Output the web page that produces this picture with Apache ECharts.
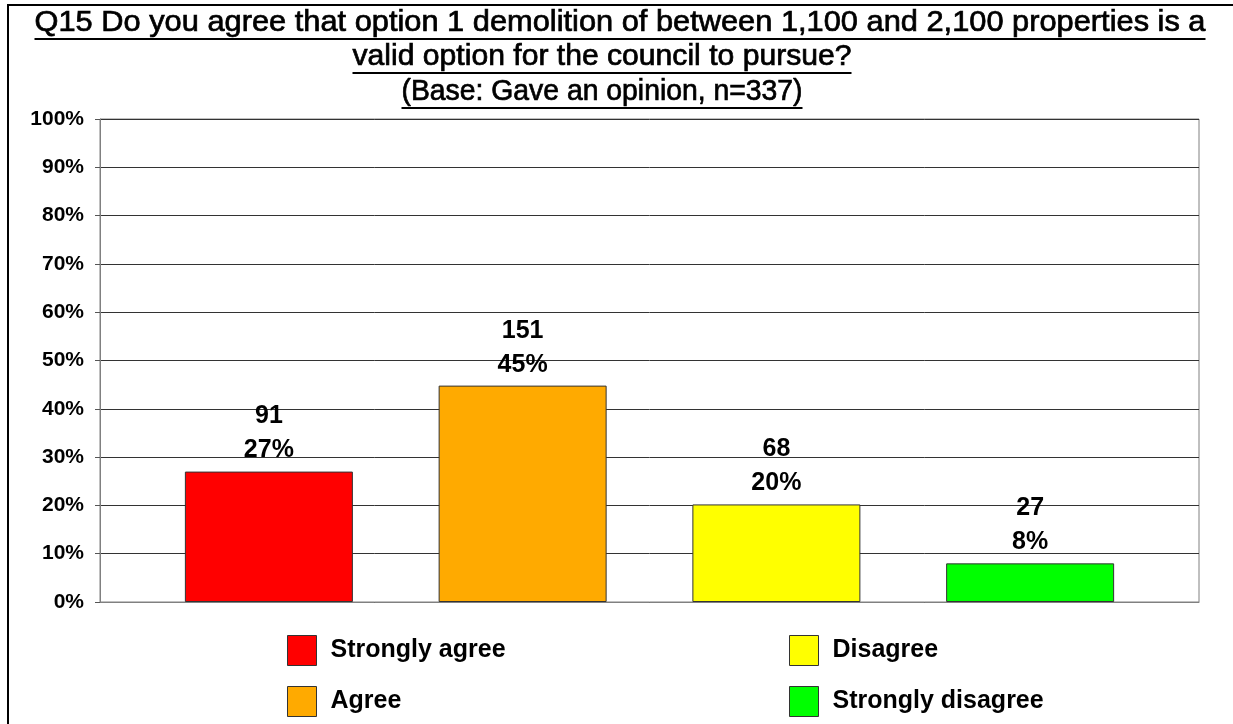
<!DOCTYPE html>
<html>
<head>
<meta charset="utf-8">
<script src="https://cdn.jsdelivr.net/npm/echarts@6/dist/echarts.min.js"></script>
<style>
html,body{margin:0;padding:0;background:#fff;}
#chart{width:1233px;height:724px;}
</style>
</head>
<body>
<div id="chart"></div>
<script>
// ---- data ----
const titleLines = [
  'Q15 Do you agree that option 1 demolition of between 1,100 and 2,100 properties is a',
  'valid option for the council to pursue?',
  '(Base: Gave an opinion, n=337)'
];
const categories = ['Strongly agree', 'Agree', 'Disagree', 'Strongly disagree'];
const counts = [91, 151, 68, 27];
const percents = [27.0, 44.8, 20.2, 8.0];
const yMin = 0;
const yMax = 100;
const yStep = 10;

// ---- style ----
const colors = ['#FF0000', '#FFAA00', '#FFFF00', '#00FF00'];
const FONT = '"Liberation Sans", Arial, sans-serif';
const titleSize = 29;
const titleLayout = [
  { cx: 620, baseline: 33, width: 1171 },
  { cx: 602, baseline: 67, width: 499 },
  { cx: 602, baseline: 102, width: 401 }
];

const canvas = document.createElement('canvas');
const ctx = canvas.getContext('2d');
ctx.font = titleSize + 'px ' + FONT;

const graphics = [];
titleLines.forEach((t, i) => {
  const L = titleLayout[i];
  const natural = ctx.measureText(t).width;
  const sx = L.width ? L.width / natural : 1;
  const w = natural * sx;
  graphics.push({
    type: 'text', x: L.cx, y: L.baseline - 10, scaleX: sx,
    style: { text: t, fill: '#000', stroke: '#000', lineWidth: 0.7, font: titleSize + 'px ' + FONT, align: 'center', verticalAlign: 'middle' }
  });
  graphics.push({
    type: 'line',
    shape: { x1: L.cx - w / 2, y1: L.baseline + 6, x2: L.cx + w / 2, y2: L.baseline + 6 },
    style: { stroke: '#000', lineWidth: 2 }
  });
});
// outer frame (top & left)
graphics.push({
  type: 'polyline',
  shape: { points: [[8, 740], [8, 5], [1240, 5]] },
  style: { stroke: '#000', lineWidth: 2, fill: null }
});

const series = categories.map((name, i) => ({
  name: name,
  type: 'bar',
  xAxisIndex: 1,
  yAxisIndex: 1,
  barWidth: 168,
  barGap: '-100%',
  itemStyle: { color: colors[i], borderColor: '#333', borderWidth: 1 },
  label: {
    show: true,
    position: 'top',
    distance: 4,
    formatter: () => counts[i] + '\n' + Math.round(percents[i]) + '%',
    fontFamily: FONT,
    fontSize: 25,
    fontWeight: 'bold',
    color: '#000',
    lineHeight: 34
  },
  data: categories.map((c, j) => (j === i ? percents[i] : '-'))
}));

const legendText = { fontFamily: FONT, fontSize: 25, fontWeight: 'bold', color: '#000', padding: [0, 0, 0, 9] };
const legendBase = {
  orient: 'vertical', top: 635, padding: 0, itemWidth: 29, itemHeight: 30, itemGap: 20,
  icon: 'rect', textStyle: legendText, selectedMode: false,
  itemStyle: { borderColor: '#333', borderWidth: 1 }
};

const chart = echarts.init(document.getElementById('chart'), null, { renderer: 'canvas' });
chart.setOption({
  animation: false,
  backgroundColor: '#fff',
  graphic: graphics,
  legend: [
    Object.assign({}, legendBase, { left: 287, data: [categories[0], categories[1]] }),
    Object.assign({}, legendBase, { left: 789, data: [categories[2], categories[3]] })
  ],
  grid: [
    { left: 100, right: 34, top: 119, bottom: 122, show: true, borderColor: '#808080', borderWidth: 1, backgroundColor: 'transparent' },
    { left: 142, right: 76, top: 119, bottom: 122 }
  ],
  xAxis: [
    { gridIndex: 0, type: 'value', min: 0, max: 1, show: true, axisLine: { show: true, lineStyle: { color: '#808080' } }, axisTick: { show: false }, axisLabel: { show: false }, splitLine: { show: false } },
    { gridIndex: 1, type: 'category', data: categories, show: false, boundaryGap: true }
  ],
  yAxis: [
    {
      gridIndex: 0, type: 'value', min: yMin, max: yMax, interval: yStep,
      axisLine: { show: true, lineStyle: { color: '#808080', width: 1 } },
      axisTick: { show: true, length: 5, lineStyle: { color: '#555' } },
      axisLabel: { formatter: '{value}%', fontFamily: FONT, fontSize: 21, fontWeight: 'bold', color: '#000', margin: 16 },
      splitLine: { show: true, lineStyle: { color: '#333', width: 1 } }
    },
    { gridIndex: 1, type: 'value', min: yMin, max: yMax, show: false, splitLine: { show: false } }
  ],
  series: series
});
</script>
</body>
</html>
